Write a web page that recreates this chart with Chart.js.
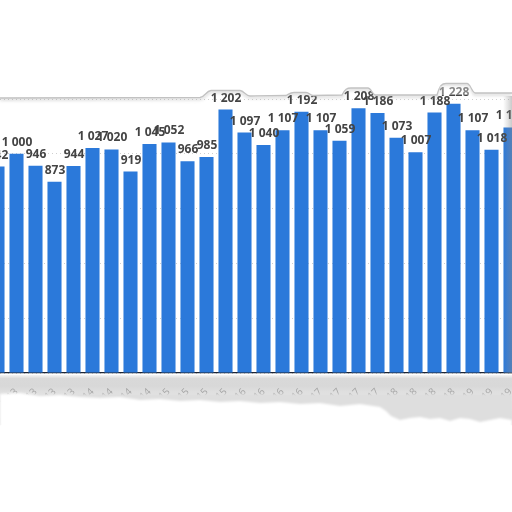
<!DOCTYPE html>
<html>
<head>
<meta charset="utf-8">
<script src="https://cdn.jsdelivr.net/npm/chart.js@4/dist/chart.umd.min.js"></script>
<style>
  html, body { margin:0; padding:0; background:#fff; overflow:hidden; }
  body { width:512px; height:512px; position:relative; }
  #back, #front { position:absolute; left:0; top:0; width:512px; height:512px; pointer-events:none; }
  #back { z-index:0; }
  #wrap { position:absolute; left:-20px; top:0; width:552px; height:512px; z-index:1; }
  #front { z-index:2; }
</style>
</head>
<body>
<svg id="back" viewBox="0 0 512 512">
  <defs>
    <linearGradient id="band" gradientUnits="userSpaceOnUse" x1="0" y1="375" x2="0" y2="420">
      <stop offset="0" stop-color="#f4f4f4"/>
      <stop offset="0.08" stop-color="#d9d9d9"/>
      <stop offset="0.25" stop-color="#d8d8d8"/>
      <stop offset="0.45" stop-color="#e4e4e4"/>
      <stop offset="1" stop-color="#dcdcdc"/>
    </linearGradient>
  </defs>
  <rect x="0" y="375" width="512" height="50" fill="url(#band)"/>
</svg>
<div id="wrap"><canvas id="c" width="552" height="512"></canvas></div>
<svg id="front" viewBox="0 0 512 512">
  <defs>
    <filter id="soft" x="-5%" y="-20%" width="110%" height="140%"><feGaussianBlur stdDeviation="1.2"/></filter>
    <filter id="sh" x="-5%" y="-50%" width="110%" height="200%"><feGaussianBlur stdDeviation="1.5"/></filter>
    <linearGradient id="rshade" x1="0" y1="0" x2="1" y2="0">
      <stop offset="0" stop-color="#999" stop-opacity="0"/>
      <stop offset="1" stop-color="#888" stop-opacity="0.45"/>
    </linearGradient>
  </defs>
  <!-- top torn edge -->
  <path d="M0,98 L200,97.5 C205,97 206,91 211,90.5 L240,90.5 C244,91 246,96 250,96 L286,95.5 C289,94 290,92.5 294,92.5 L306,92.5 C309,92.5 310,95 313,95.5 L342,95 C345,89 347,88 351,88 L368,88 C371,88 372,94 375,95 L437,95 C440,85 442,83.5 446,83.5 L467,83.5 C470,83.5 472,92 475,93 L512,93"
        fill="none" stroke="#999" stroke-width="3" stroke-opacity="0.3" transform="translate(0,1.5)" filter="url(#sh)"/>
  <path d="M0,0 L512,0 L512,93 L475,93 C472,92 470,83.5 467,83.5 L446,83.5 C442,83.5 440,85 437,95 L375,95 C372,94 371,88 368,88 L351,88 C347,88 345,89 342,95 L313,95.5 C310,95 309,92.5 306,92.5 L294,92.5 C290,92.5 289,94 286,95.5 L250,96 C246,96 244,91 240,90.5 L211,90.5 C206,91 205,97 200,97.5 L0,98 Z" fill="#fff"/>
  <path d="M0,98 L200,97.5 C205,97 206,91 211,90.5 L240,90.5 C244,91 246,96 250,96 L286,95.5 C289,94 290,92.5 294,92.5 L306,92.5 C309,92.5 310,95 313,95.5 L342,95 C345,89 347,88 351,88 L368,88 C371,88 372,94 375,95 L437,95 C440,85 442,83.5 446,83.5 L467,83.5 C470,83.5 472,92 475,93 L512,93"
        fill="none" stroke="#c2c2c2" stroke-width="1.3"/>
  <path d="M440,86 L470,86 L472,95 L438,95 Z" fill="#fff" fill-opacity="0.35"/>
  <!-- right edge shade -->
  <rect x="503" y="96" width="9" height="278" fill="url(#rshade)"/>
  <!-- grey paper covering the rest of the tick labels -->
  <rect x="0" y="394" width="512" height="31" fill="#dedede" filter="url(#soft)"/>
  <!-- bottom torn edge (white below) -->
  <path d="M0,394 L20,393 L40,396 L60,395 L80,397 L100,398 L120,397 L140,400 L160,399 L180,401 L200,400 L220,402 L240,401 L260,403 L280,402 L300,404 L320,403 L340,406 L360,404 L380,407 L386,411 L391,416 L400,420 L410,418 L420,417 L430,419 L440,418 L450,421 L460,418 L470,419 L480,422 L490,420 L500,418 L512,420 L512,512 L0,512 Z"
        fill="#fff" filter="url(#soft)"/>
  <rect x="0" y="426" width="512" height="86" fill="#fff"/>
</svg>
<script>
const categories = ["Q4 2012","Q1 2013","Q2 2013","Q3 2013","Q4 2013","Q1 2014","Q2 2014","Q3 2014","Q4 2014",
  "Q1 2015","Q2 2015","Q3 2015","Q4 2015","Q1 2016","Q2 2016","Q3 2016","Q4 2016",
  "Q1 2017","Q2 2017","Q3 2017","Q4 2017","Q1 2018","Q2 2018","Q3 2018","Q4 2018",
  "Q1 2019","Q2 2019","Q3 2019"];
const values = [942, 1000, 946, 873, 944, 1027, 1020, 919, 1045, 1052, 966, 985, 1202, 1097, 1040,
  1107, 1192, 1107, 1059, 1208, 1186, 1073, 1007, 1188, 1228, 1107, 1018, 1120];
const yTicks = [0, 250, 500, 750, 1000, 1250];

function fmt(v) {
  const s = String(Math.round(v));
  return s.length > 3 ? s.slice(0, s.length - 3) + " " + s.slice(-3) : s;
}

const valueLabels = {
  id: 'valueLabels',
  afterDatasetsDraw(chart) {
    const ctx = chart.ctx;
    const meta = chart.getDatasetMeta(0);
    ctx.save();
    ctx.font = 'bold 12px "Open Sans", "Liberation Sans", sans-serif';
    ctx.fillStyle = '#444444';
    ctx.textAlign = 'center';
    ctx.textBaseline = 'alphabetic';
    meta.data.forEach((bar, i) => {
      ctx.fillText(fmt(values[i]), bar.x + 0.5, bar.y - 8);
    });
    ctx.restore();
  }
};

new Chart(document.getElementById('c'), {
  type: 'bar',
  data: {
    labels: categories,
    datasets: [{
      data: values,
      backgroundColor: '#2b79da',
      borderWidth: 0,
      barPercentage: 0.74,
      categoryPercentage: 1.0
    }]
  },
  options: {
    responsive: false,
    animation: false,
    events: [],
    layout: { padding: { left: 8, right: 12, top: 99, bottom: 0 } },
    plugins: { legend: { display: false }, tooltip: { enabled: false }, title: { display: false } },
    scales: {
      x: {
        grid: { display: false, drawTicks: false },
        border: { display: true, color: '#1d2433', width: 1.2 },
        ticks: {
          autoSkip: false, minRotation: 45, maxRotation: 45,
          color: '#a6a6a6', padding: 13,
          font: { size: 10, family: '"Open Sans", sans-serif' }
        },
        afterFit(scale) { scale.height = 139; scale.paddingLeft = 0; scale.paddingRight = 0; }
      },
      y: {
        min: 0, max: 1250,
        afterBuildTicks(scale) { scale.ticks = yTicks.map(v => ({ value: v })); },
        ticks: { display: false },
        grid: { color: '#cfcfcf', lineWidth: 1, drawTicks: false },
        border: { display: false, dash: [1, 3] },
        afterFit(scale) { scale.width = 0; }
      }
    }
  },
  plugins: [valueLabels]
});
</script>
</body>
</html>
